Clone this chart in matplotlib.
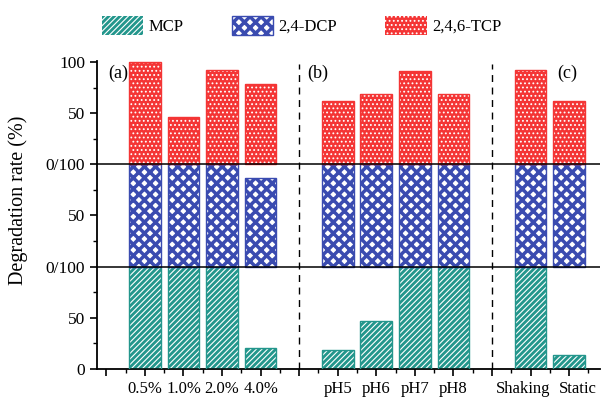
import numpy as np
import matplotlib
matplotlib.use("Agg")
import matplotlib.pyplot as plt
import matplotlib.transforms as mtrans
from matplotlib.patches import Patch

plt.rcParams['font.family'] = ['Liberation Serif', 'DejaVu Serif']
plt.rcParams['font.size'] = 12

# data
labels = ['0.5%', '1.0%', '2.0%', '4.0%', 'pH5', 'pH6', 'pH7', 'pH8', 'Shaking', 'Static']
xpos = [1, 2, 3, 4, 6, 7, 8, 9, 11, 12]
mcp = [100, 100, 100, 21, 19, 47, 100, 100, 100, 14]
dcp = [100, 100, 100, 87, 100, 100, 100, 100, 100, 100]
tcp = [100, 46, 92, 78, 62, 69, 91, 69, 92, 62]

teal = '#23968c'
blue = '#3a4bb0'
red = '#f43535'
w = 0.82

fig = plt.figure(figsize=(6.03, 3.97), dpi=100)
ax = fig.add_axes([0.161, 0.0705, 0.834, 0.776])

def hbar(vals, base, face, hcol, hatch, edge, hlw):
    plt.rcParams['hatch.linewidth'] = hlw
    ax.bar(xpos, vals, w, bottom=base, color=face, edgecolor=hcol, hatch=hatch, linewidth=0, zorder=2)
    ax.bar(xpos, vals, w, bottom=base, fill=False, edgecolor=edge, linewidth=1.0, zorder=3)

hbar(mcp, 0, teal, 'white', '//////', teal, 0.8)
hbar(dcp, 100, 'white', blue, 'xxx', blue, 2.5)
hbar(tcp, 200, red, 'white', '....', red, 0.8)

ax.axhline(100, color='black', lw=1.1, zorder=4)
ax.axhline(200, color='black', lw=1.1, zorder=4)
ax.axvline(5, ymin=0, ymax=0.99, color='black', ls=(0, (5, 4)), lw=1.0)
ax.axvline(10, ymin=0, ymax=0.99, color='black', ls=(0, (5, 4)), lw=1.0)

ax.text(0.05, 289, '(a)', fontsize=13, va='center')
ax.text(5.2, 289, '(b)', fontsize=13, va='center')
ax.text(11.7, 289, '(c)', fontsize=13, va='center')

ax.set_xlim(-0.24, 12.8)
ax.set_ylim(0, 301)
ax.set_xticks(range(13))
ax.set_xticklabels(['', '0.5%', '1.0%', '2.0%', '4.0%', '', 'pH5', 'pH6', 'pH7', 'pH8', '', 'Shaking', 'Static'])
ax.set_xticks(np.arange(0.5, 13, 1), minor=True)
ax.set_yticks([0, 50, 100, 150, 200, 250, 300])
ax.set_yticklabels(['0', '50', '0/100', '50', '0/100', '50', '100'])
ax.set_yticks(np.arange(25, 300, 50), minor=True)
ax.tick_params(which='major', direction='out', length=5, width=1.2, labelsize=12.5)
ax.tick_params(axis='x', which='major', labelsize=12)
ax.tick_params(which='minor', direction='out', length=3, width=1.0)
ax.spines['top'].set_visible(False)
ax.spines['right'].set_visible(False)
ax.spines['left'].set_linewidth(1.3)
ax.spines['bottom'].set_linewidth(1.3)
ax.set_ylabel('Degradation rate (%)', fontsize=14.5)
ax.yaxis.set_label_coords(-0.137, 0.549)

# nudge the last two labels apart like the original
xt = ax.get_xticklabels()
xt[11].set_transform(xt[11].get_transform() + mtrans.ScaledTranslation(-7 / 100, 0, fig.dpi_scale_trans))
xt[12].set_transform(xt[12].get_transform() + mtrans.ScaledTranslation(9 / 100, 0, fig.dpi_scale_trans))

h1 = Patch(facecolor=teal, edgecolor='white', hatch='//////', linewidth=0)
h2 = Patch(facecolor='white', edgecolor=blue, hatch='xxx', linewidth=1)
h3 = Patch(facecolor=red, edgecolor='white', hatch='....', linewidth=0)
leg = fig.legend([h1, h2, h3], ['MCP', '2,4-DCP', '2,4,6-TCP'], loc='center', bbox_to_anchor=(0.5, 0.935),
                 ncol=3, frameon=False, fontsize=12, handlelength=2.5, handleheight=1.3,
                 columnspacing=2.9, handletextpad=0.3)
for hd, lw in zip(leg.legend_handles, [0.8, 2.5, 0.8]):
    if hasattr(hd, 'set_hatch_linewidth'):
        hd.set_hatch_linewidth(lw)
    else:
        hd._hatch_linewidth = lw

fig.savefig('out.png', dpi=100)
